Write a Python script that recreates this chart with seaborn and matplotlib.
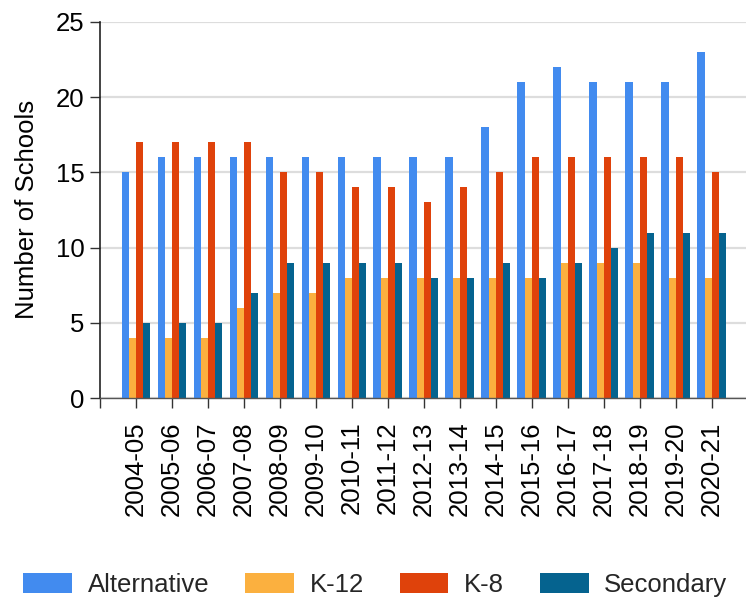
import numpy as np
import pandas as pd
import seaborn as sns
import matplotlib
matplotlib.use("Agg")
import matplotlib.pyplot as plt

years = ["2004-05", "2005-06", "2006-07", "2007-08", "2008-09", "2009-10", "2010-11",
         "2011-12", "2012-13", "2013-14", "2014-15", "2015-16", "2016-17", "2017-18",
         "2018-19", "2019-20", "2020-21"]
alternative = [15, 16, 16, 16, 16, 16, 16, 16, 16, 16, 18, 21, 22, 21, 21, 21, 23]
k12 = [4, 4, 4, 6, 7, 7, 8, 8, 8, 8, 8, 8, 9, 9, 9, 8, 8]
k8 = [17, 17, 17, 17, 15, 15, 14, 14, 13, 14, 15, 16, 16, 16, 16, 16, 15]
secondary = [5, 5, 5, 7, 9, 9, 9, 9, 8, 8, 9, 8, 9, 10, 11, 11, 11]
series_names = ["Alternative", "K-12", "K-8", "Secondary"]
colors = ["#428BEF", "#FBB03F", "#DF420B", "#05638F"]

rows = []
for name, vals in zip(series_names, [alternative, k12, k8, secondary]):
    for y, v in zip(years, vals):
        rows.append({"Year": y, "Type": name, "Schools": v})
df = pd.DataFrame(rows)

sns.set_theme(style="white")
plt.rcParams['font.family'] = ['Liberation Sans', 'DejaVu Sans']

fig = plt.figure(figsize=(7.46, 6.05), dpi=100)
ax = fig.add_axes([0.134, 0.342, 0.866, 0.622])

sns.barplot(data=df, x="Year", y="Schools", hue="Type", order=years,
            hue_order=series_names, palette=colors, width=0.8, ax=ax,
            saturation=1, edgecolor="none", linewidth=0)

ax.set_ylim(0, 25)
ax.set_yticks([0, 5, 10, 15, 20, 25])
ax.set_xlim(-1, 16.95)
ax.set_xticks(list(range(-1, 17)))
ax.set_xticklabels([""] + years, rotation=90, fontsize=18.5, color="black")
ax.tick_params(axis="y", labelsize=18.5, labelcolor="black", length=7, width=1,
               color="#333333", direction="out", left=True, pad=4)
ax.tick_params(axis="x", length=7, width=1, color="#333333", direction="out",
               bottom=True, pad=10)
ax.grid(axis="y", color="#DDDDDD", linewidth=1.6)
ax.set_axisbelow(True)
for s in ["top", "right"]:
    ax.spines[s].set_visible(False)
ax.spines["left"].set_color("#222222")
ax.spines["left"].set_linewidth(1.2)
ax.spines["bottom"].set_color("#555555")
ax.spines["bottom"].set_linewidth(1)
ax.set_xlabel("")
ax.set_ylabel("Number of Schools", fontsize=18.5, color="black", labelpad=12)

leg = ax.legend(loc="center", bbox_to_anchor=(0.503, 0.033), bbox_transform=fig.transFigure,
                ncol=4, frameon=False, fontsize=18.5, handlelength=1.9, handleheight=0.85,
                handletextpad=0.6, columnspacing=1.4, borderaxespad=0)

fig.savefig("out.png", dpi=100)
